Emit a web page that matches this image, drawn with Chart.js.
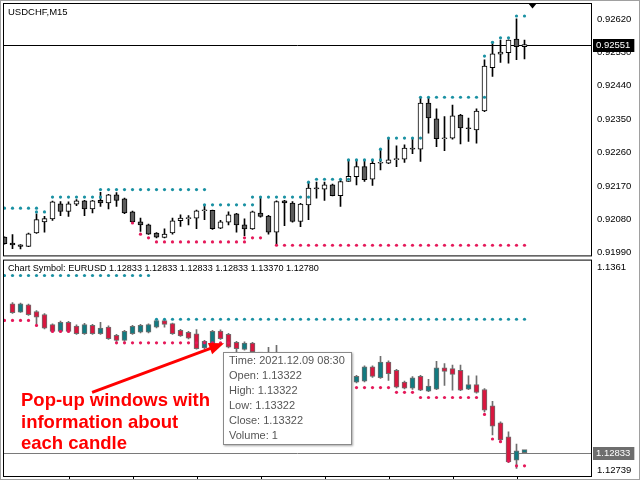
<!DOCTYPE html>
<html><head><meta charset="utf-8">
<script src="https://cdn.jsdelivr.net/npm/chart.js@4.4.1/dist/chart.umd.min.js"></script>
<style>
html,body{margin:0;padding:0;background:#fff;}
#root{position:relative;width:640px;height:480px;overflow:hidden;background:#fff;font-family:'Liberation Sans',Arial,sans-serif;}
#c1{position:absolute;left:0;top:0;}
#c2{position:absolute;left:0;top:258px;}
.lbl{position:absolute;font-size:9.5px;color:#000;white-space:nowrap;line-height:12px;}
#tip{position:absolute;left:223px;top:352px;width:129px;height:93px;border:1px solid #8a8a8a;background:#fff;box-shadow:1px 1px 2px rgba(0,0,0,.35);font-size:11px;line-height:14.9px;color:#555;padding:0 0 0 5px;box-sizing:border-box;white-space:nowrap;}
#note{position:absolute;left:21px;top:389px;color:#ff0000;font-weight:bold;font-size:18.5px;line-height:21.7px;white-space:nowrap;}
#edge{position:absolute;left:0;top:0;width:640px;height:480px;box-sizing:border-box;border:1px solid #a0a0a0;pointer-events:none;}
</style></head>
<body><div id="root">
<canvas id="c1" width="640" height="258"></canvas>
<canvas id="c2" width="640" height="222"></canvas>
<div class="lbl" id="t1" style="left:8px;top:6px">USDCHF,M15</div>
<div class="lbl" id="t2" style="left:8px;top:262px;font-size:9.1px"></div>
<div id="note">Pop-up windows with<br>information about<br>each candle</div>
<div id="tip"></div>
<div id="edge"></div>
</div>
<script>
// ---------- USDCHF M15 (upper pane) ----------
const topOpen = [0.92032,0.92016,0.92011,0.92007,0.92043,0.92073,0.92081,0.92122,0.92101,0.92121,0.92130,0.92108,0.92131,0.92124,0.92146,0.92135,0.92100,0.92073,0.92065,0.92043,0.92031,0.92043,0.92076,0.92082,0.92083,0.92103,0.92104,0.92056,0.92072,0.92095,0.92065,0.92054,0.92097,0.92089,0.92045,0.92130,0.92124,0.92074,0.92119,0.92164,0.92161,0.92173,0.92144,0.92182,0.92195,0.92222,0.92188,0.92231,0.92231,0.92241,0.92242,0.92272,0.92269,0.92393,0.92351,0.92297,0.92299,0.92361,0.92326,0.92321,0.92372,0.92489,0.92525,0.92529,0.92566,0.92545];
const topHigh = [0.92033,0.92039,0.92012,0.92043,0.92095,0.92088,0.92129,0.92128,0.92127,0.92133,0.92131,0.92131,0.92153,0.92147,0.92152,0.92137,0.92102,0.92083,0.92067,0.92044,0.92054,0.92083,0.92092,0.92090,0.92105,0.92119,0.92105,0.92077,0.92100,0.92096,0.92081,0.92102,0.92137,0.92091,0.92130,0.92131,0.92128,0.92123,0.92180,0.92180,0.92180,0.92175,0.92188,0.92240,0.92240,0.92240,0.92240,0.92269,0.92299,0.92278,0.92281,0.92299,0.92406,0.92409,0.92378,0.92357,0.92388,0.92363,0.92353,0.92378,0.92510,0.92559,0.92563,0.92564,0.92620,0.92563];
const topLow = [0.92013,0.92001,0.92000,0.92006,0.92042,0.92045,0.92077,0.92090,0.92088,0.92117,0.92090,0.92097,0.92115,0.92108,0.92115,0.92095,0.92071,0.92047,0.92039,0.92030,0.92030,0.92040,0.92061,0.92065,0.92055,0.92079,0.92053,0.92055,0.92065,0.92045,0.92036,0.92053,0.92086,0.92040,0.92012,0.92063,0.92072,0.92060,0.92079,0.92137,0.92131,0.92143,0.92115,0.92182,0.92173,0.92182,0.92171,0.92213,0.92230,0.92222,0.92233,0.92257,0.92236,0.92312,0.92276,0.92265,0.92296,0.92283,0.92290,0.92285,0.92370,0.92465,0.92503,0.92501,0.92510,0.92512];
const topClose = [0.92014,0.92011,0.92007,0.92041,0.92079,0.92082,0.92127,0.92101,0.92122,0.92130,0.92108,0.92130,0.92124,0.92146,0.92131,0.92097,0.92073,0.92065,0.92040,0.92032,0.92040,0.92076,0.92083,0.92083,0.92103,0.92104,0.92055,0.92073,0.92092,0.92065,0.92054,0.92100,0.92088,0.92045,0.92128,0.92124,0.92074,0.92121,0.92164,0.92162,0.92173,0.92144,0.92182,0.92196,0.92222,0.92187,0.92231,0.92232,0.92240,0.92242,0.92272,0.92269,0.92393,0.92353,0.92297,0.92298,0.92359,0.92326,0.92324,0.92372,0.92493,0.92526,0.92531,0.92563,0.92545,0.92551];
// resistance (teal) and support (red) dot levels, null = no dot
const topRes = [0.92110,0.92110,0.92110,0.92110,0.92110,0.92100,0.92140,0.92140,0.92140,0.92140,0.92140,0.92140,0.92140,0.92160,0.92160,0.92160,0.92160,0.92160,0.92160,0.92160,0.92160,0.92160,0.92160,0.92160,0.92160,0.92160,0.92119,0.92119,0.92119,0.92119,0.92119,0.92119,0.92140,0.92140,0.92140,0.92140,0.92140,0.92140,0.92140,0.92188,0.92188,0.92188,0.92188,0.92188,0.92240,0.92240,0.92240,0.92240,0.92299,0.92299,0.92299,0.92299,0.92299,0.92409,0.92409,0.92409,0.92409,0.92409,0.92409,0.92409,0.92409,0.92557,0.92569,0.92569,0.92628,0.92628];
const topRes2 = [null,null,null,null,0.92100,null,null,null,null,null,null,null,0.92160,null,null,null,null,null,null,null,null,null,null,null,null,0.92119,null,null,null,null,null,0.92140,null,null,null,null,null,null,0.92180,null,null,null,null,0.92240,null,null,null,0.92269,null,null,null,null,0.92409,null,null,null,null,null,null,null,0.92520,null,null,null,null,null];
const topSup = [null,null,null,null,null,null,null,null,null,null,null,null,null,null,null,null,0.92070,0.92040,0.92030,0.92019,0.92019,0.92019,0.92019,0.92019,0.92019,0.92019,0.92019,0.92019,0.92019,0.92019,0.92019,0.92030,0.92030,null,0.92010,0.92010,0.92010,0.92010,0.92010,0.92010,0.92010,0.92010,0.92010,0.92010,0.92010,0.92010,0.92010,0.92010,0.92010,0.92010,0.92010,0.92010,0.92010,0.92010,0.92010,0.92010,0.92010,0.92010,0.92010,0.92010,0.92010,0.92010,0.92010,0.92010,0.92010,0.92010];
const topSup2 = [null,null,null,null,null,null,null,null,null,null,null,null,null,null,null,null,null,null,null,null,null,null,null,null,null,null,null,null,null,null,0.92030,null,null,null,null,null,null,null,null,null,null,null,null,null,null,null,null,null,null,null,null,null,null,null,null,null,null,null,null,null,null,null,null,null,null,null];
const topTicks = [0.91990,0.92080,0.92170,0.92260,0.92350,0.92440,0.92530,0.92620];

// ---------- Chart Symbol EURUSD (lower pane) ----------
const lowOpen = [null,1.13432,1.13398,1.13428,1.13401,1.13389,1.13348,1.13321,1.13358,1.13342,1.13312,1.13345,1.13312,1.13338,1.13305,1.13285,1.13312,1.13318,1.13318,1.13338,1.13365,1.13352,1.13325,1.13317,1.13311,1.13255,1.13269,1.13322,1.13309,1.13277,1.13248,1.13274,1.13238,1.13212,1.13222,1.13200,1.13180,1.13195,1.13160,1.13170,1.13140,1.13150,1.13125,1.13135,1.13117,1.13121,1.13178,1.13135,1.13198,1.13164,1.13117,1.13093,1.13140,1.13080,1.13088,1.13174,1.13171,1.13164,1.13088,1.13107,1.13087,1.13021,1.12953,1.12897,1.12803,1.12833];
const lowHigh = [null,1.13437,1.13435,1.13431,1.13405,1.13393,1.13351,1.13363,1.13362,1.13347,1.13353,1.13349,1.13358,1.13343,1.13309,1.13325,1.13345,1.13349,1.13351,1.13369,1.13369,1.13355,1.13329,1.13321,1.13328,1.13285,1.13325,1.13327,1.13313,1.13281,1.13279,1.13277,1.13236,1.13257,1.13265,1.13215,1.13205,1.13210,1.13185,1.13190,1.13165,1.13170,1.13150,1.13150,1.13144,1.13182,1.13182,1.13221,1.13203,1.13168,1.13121,1.13139,1.13144,1.13128,1.13201,1.13191,1.13185,1.13185,1.13142,1.13142,1.13091,1.13040,1.12957,1.12917,1.12867,1.12833];
const lowLow = [null,1.13393,1.13397,1.13385,1.13352,1.13331,1.13319,1.13319,1.13319,1.13309,1.13309,1.13309,1.13309,1.13289,1.13281,1.13281,1.13309,1.13315,1.13315,1.13335,1.13338,1.13309,1.13301,1.13291,1.13249,1.13251,1.13265,1.13289,1.13255,1.13231,1.13245,1.13235,1.13205,1.13200,1.13190,1.13170,1.13160,1.13150,1.13140,1.13130,1.13120,1.13110,1.13100,1.13105,1.13114,1.13118,1.13136,1.13132,1.13124,1.13094,1.13090,1.13087,1.13082,1.13078,1.13086,1.13104,1.13084,1.13082,1.13086,1.13072,1.12997,1.12904,1.12877,1.12793,1.12770,1.12833];
const lowClose = [null,1.13396,1.13432,1.13388,1.13378,1.13334,1.13321,1.13358,1.13321,1.13312,1.13348,1.13312,1.13334,1.13292,1.13285,1.13321,1.13341,1.13345,1.13348,1.13365,1.13349,1.13312,1.13303,1.13294,1.13252,1.13281,1.13321,1.13292,1.13258,1.13252,1.13274,1.13238,1.13212,1.13222,1.13200,1.13180,1.13195,1.13160,1.13170,1.13140,1.13150,1.13125,1.13135,1.13117,1.13140,1.13178,1.13140,1.13198,1.13151,1.13097,1.13093,1.13134,1.13084,1.13101,1.13174,1.13160,1.13148,1.13084,1.13107,1.13075,1.13004,1.12940,1.12884,1.12796,1.12840,1.12833];
const lowRes = [1.13546,1.13546,1.13546,1.13546,1.13546,1.13546,1.13546,1.13546,1.13546,1.13546,1.13546,1.13546,1.13546,1.13546,1.13546,1.13546,1.13546,1.13546,1.13546,1.13370,1.13370,1.13370,1.13370,1.13370,1.13370,1.13370,1.13370,1.13370,1.13370,1.13370,1.13370,1.13370,1.13370,1.13370,1.13370,1.13370,1.13370,1.13370,1.13370,1.13370,1.13370,1.13370,1.13370,1.13370,1.13370,1.13370,1.13370,1.13370,1.13370,1.13370,1.13370,1.13370,1.13370,1.13370,1.13370,1.13370,1.13370,1.13370,1.13370,1.13370,1.13370,1.13370,1.13370,1.13370,1.13370,1.13370];
const lowSup = [1.13365,1.13365,1.13365,1.13365,1.13345,null,1.13321,1.13321,1.13321,null,null,null,null,null,1.13275,1.13275,1.13275,1.13275,1.13275,1.13275,1.13275,1.13275,1.13275,1.13275,1.13275,1.13275,1.13275,1.13275,1.13275,null,null,null,null,null,null,null,null,null,null,null,null,null,null,null,1.13095,1.13095,1.13095,1.13095,1.13095,1.13076,1.13076,1.13076,1.13055,1.13055,1.13055,1.13055,1.13055,1.13055,1.13055,1.13055,1.12987,1.12888,1.12877,1.12799,1.12780,1.12780];
const lowTickLabels = ['1.1361','1.12739'];
const lowTickValues = [1.13579,1.12760];
const timeTickIdx = [8,16,24,32,40,48,56,64];
const tipFields = ['Time','Open','High','Low','Close','Volume'];
const tipValues = ['2021.12.09 08:30','1.13322','1.13322','1.13322','1.13322','1'];

// ---------- helpers ----------
const FONT = 'Liberation Sans';
function candleSets(O,H,L,C,bull,bear,border,wick,minLen){
  const w=[],b=[],f=[];
  for(let i=0;i<O.length;i++){
    if(O[i]==null) continue;
    w.push({x:i,y:[L[i],H[i]]});
    b.push({x:i,y:[O[i],C[i]]});
    f.push(C[i]>=O[i]?bull:bear);
  }
  return [
    {type:'bar',data:b,backgroundColor:f,borderColor:border,borderWidth:1,borderSkipped:false,barThickness:5,minBarLength:minLen,grouped:false,order:2},
    {type:'bar',data:w,backgroundColor:wick,borderWidth:0,barThickness:1,grouped:false,order:3}
  ];
}
function dotSet(arr,color){
  const d=[]; arr.forEach((v,i)=>{ if(v!=null) d.push({x:i,y:v}); });
  return {type:'line',data:d,showLine:false,pointRadius:1.6,pointHoverRadius:0,pointBackgroundColor:color,pointBorderWidth:0,order:1};
}
function frame(chart){
  const {ctx,chartArea:a}=chart;
  ctx.save(); ctx.strokeStyle='#000'; ctx.lineWidth=1;
  ctx.strokeRect(a.left+0.5,a.top+0.5,a.right-a.left-1,a.bottom-a.top-1);
  ctx.restore();
}
function priceLine(chart,val,color){
  const {ctx,chartArea:a,scales:{y}}=chart;
  const py=Math.round(y.getPixelForValue(val))+0.5;
  ctx.save(); ctx.strokeStyle=color; ctx.lineWidth=1;
  ctx.beginPath(); ctx.moveTo(a.left,py); ctx.lineTo(a.right,py); ctx.stroke(); ctx.restore();
}
function priceBox(chart,val,bg){
  const {ctx,chartArea:a,scales:{y}}=chart;
  const py=Math.round(y.getPixelForValue(val));
  const txt=val.toFixed(5);
  ctx.save(); ctx.font='9.5px "'+FONT+'"';
  const tw=ctx.measureText(txt).width;
  ctx.fillStyle=bg; ctx.fillRect(a.right+1,py-6,tw+7,13);
  ctx.fillStyle='#fff'; ctx.textBaseline='middle'; ctx.textAlign='left';
  ctx.fillText(txt,a.right+4,py+0.5);
  ctx.restore();
}
const last = topClose.length-1;

const topDeco = {
  id:'topDeco',
  beforeDatasetsDraw(chart){ priceLine(chart,topClose[last],'#000'); },
  afterDraw(chart){
    frame(chart);
    priceBox(chart,topClose[last],'#000');
    const {ctx,chartArea:a,scales:{x}}=chart;
    const px=x.getPixelForValue(last+1);
    ctx.save(); ctx.fillStyle='#000'; ctx.beginPath();
    ctx.moveTo(px-4.5,a.top); ctx.lineTo(px+4.5,a.top); ctx.lineTo(px,a.top+5.5); ctx.closePath(); ctx.fill(); ctx.restore();
  }
};
const lowDeco = {
  id:'lowDeco',
  beforeDatasetsDraw(chart){ priceLine(chart,lowClose[last],'#7a7a7a'); },
  afterDraw(chart){
    frame(chart);
    priceBox(chart,lowClose[last],'#6e6e6e');
    const {ctx,chartArea:a,scales:{x,y}}=chart;
    ctx.save(); ctx.strokeStyle='#000'; ctx.lineWidth=1;
    timeTickIdx.forEach(t=>{ const px=Math.round(x.getPixelForValue(t))+0.5; ctx.beginPath(); ctx.moveTo(px,a.bottom); ctx.lineTo(px,a.bottom+4); ctx.stroke(); });
    ctx.restore();
    // annotation arrow pointing at candle area
    const tx=x.getPixelForValue(27.45), ty=y.getPixelForValue(1.13273);
    const sx=tx-132, sy=ty+49;
    const dx=tx-sx, dy=ty-sy, len=Math.hypot(dx,dy), ux=dx/len, uy=dy/len;
    const hl=15, hw=6;
    const bx=tx-ux*hl, by=ty-uy*hl;
    ctx.save(); ctx.strokeStyle='#ff0000'; ctx.fillStyle='#ff0000'; ctx.lineWidth=3;
    ctx.beginPath(); ctx.moveTo(sx,sy); ctx.lineTo(bx+ux*2,by+uy*2); ctx.stroke();
    ctx.beginPath(); ctx.moveTo(tx,ty); ctx.lineTo(bx-uy*hw,by+ux*hw); ctx.lineTo(bx+uy*hw,by-ux*hw); ctx.closePath(); ctx.fill();
    ctx.restore();
  }
};

function baseOptions(ymin,ymax,pad,tickFn,labelFn){
  return {
    responsive:false, animation:false, devicePixelRatio:1, events:[],
    layout:{padding:pad},
    plugins:{legend:{display:false},tooltip:{enabled:false},title:{display:false}},
    scales:{
      x:{type:'linear',min:-0.1875,max:73.4375,offset:false,display:false},
      y:{type:'linear',position:'right',min:ymin,max:ymax,
         grid:{display:false,drawTicks:false},border:{display:false},
         afterBuildTicks:tickFn,
         afterFit:s=>{s.width=48; s.paddingTop=0; s.paddingBottom=0;},
         ticks:{padding:5,color:'#000',font:{family:FONT,size:9.5},callback:labelFn}}
    }
  };
}

new Chart(document.getElementById('c1'),{
  type:'bar',
  data:{datasets:[
    dotSet(topRes,'#1a91a3'), dotSet(topRes2,'#1a91a3'),
    dotSet(topSup,'#e5195a'), dotSet(topSup2,'#e5195a'),
    ...candleSets(topOpen,topHigh,topLow,topClose,'#ffffff','#5c5c5c','#000000','#000000',1)
  ]},
  options:baseOptions(0.91980,0.92663,{left:3,top:3,right:0,bottom:1},
    s=>{s.ticks=topTicks.map(v=>({value:v}));},
    v=>v.toFixed(5)),
  plugins:[topDeco]
});

new Chart(document.getElementById('c2'),{
  type:'bar',
  data:{datasets:[
    dotSet(lowRes,'#1a91a3'), dotSet(lowSup,'#e5195a'),
    ...candleSets(lowOpen,lowHigh,lowLow,lowClose,'#127a80','#d8173f','#6e6e6e','#6e6e6e',3)
  ]},
  options:baseOptions(1.12735,1.13610,{left:3,top:1,right:0,bottom:3},
    s=>{s.ticks=lowTickValues.map(v=>({value:v}));},
    (v,i)=>lowTickLabels[i]),
  plugins:[lowDeco]
});

document.getElementById('t2').textContent='Chart Symbol: EURUSD '+[lowOpen[last],lowHigh[last],lowLow[last],lowClose[last],lowRes[last],lowSup[last]].map(v=>v.toFixed(5)).join(' ');
document.getElementById('tip').innerHTML=tipFields.map((f,i)=>f+': '+tipValues[i]).join('<br>');
</script>
</body></html>
